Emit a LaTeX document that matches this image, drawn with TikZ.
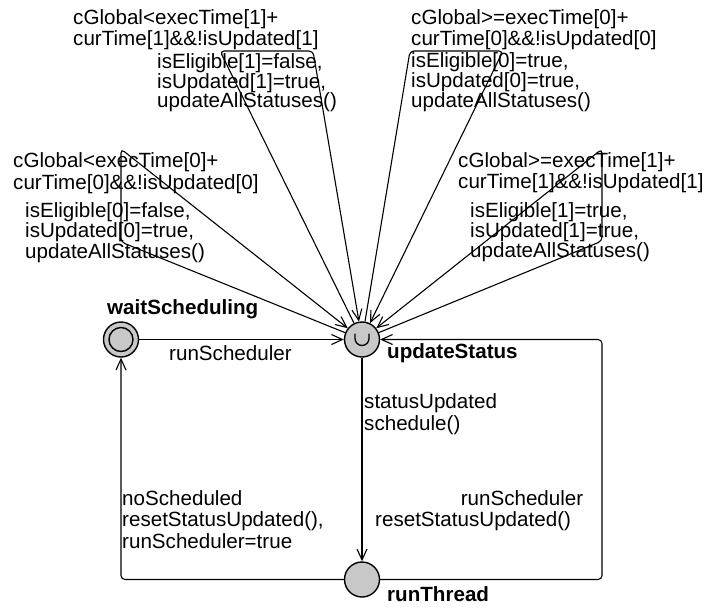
\documentclass[tikz,border=0pt]{standalone}
\usepackage{fontspec}
\setmainfont{Liberation Sans}
\usetikzlibrary{arrows.meta}
\definecolor{locfill}{RGB}{200,200,200}
\begin{document}
\begin{tikzpicture}[x=1pt,y=-1pt,
  loc/.style={circle,draw,line width=1.4pt,fill=locfill,minimum size=35pt,inner sep=0pt},
  edge/.style={draw,line width=1.1pt,rounded corners=4pt},
  arr/.style={-{Straight Barb[length=11pt,width=10pt,line width=1.1pt]}},
  lab/.style={anchor=base west,inner sep=0pt,font=\fontsize{20.6}{22}\selectfont},
  labr/.style={lab,anchor=base east},
  locname/.style={lab,font=\fontsize{20.6}{22}\selectfont\bfseries}]
\useasboundingbox (0,0) rectangle (712,608);
% locations
\node[loc] (ws) at (121,339.5) {};
\draw[line width=1.4pt] (ws.center) circle[radius=12];
\node[loc] (us) at (362,339.5) {};
\draw[line width=1.3pt] ([shift={(-7,-6)}]us.center) -- ++(0,5) arc[start angle=180,end angle=0,radius=7] -- ++(0,-5);
\node[loc] (rt) at (362,579.5) {};
\node[locname] (nws) at (107,314) {waitScheduling};
\node[locname] (nus) at (387,358) {updateStatus};
\node[locname] (nrt) at (387,601) {runThread};
% corner points
\coordinate (bl) at (121,579.5);
\coordinate (br1) at (602,579.5);
\coordinate (br2) at (602,339.5);
\coordinate (a1) at (220,51);
\coordinate (a2) at (313,51);
\coordinate (b1) at (410,51);
\coordinate (b2) at (503,51);
\coordinate (c1) at (121,242);
\coordinate (c2) at (121,149);
\coordinate (d1) at (602,241);
\coordinate (d2) at (602,149);
% edges
\draw[edge,arr] (ws) -- (us);
\draw[edge,arr] (us) -- (rt);
\draw[edge,arr] (rt) -- (bl) -- (ws);
\draw[edge,arr] (rt) -- (br1) -- (br2) -- (us);
\draw[edge,arr] (us) -- (a1) -- (a2) -- (us);
\draw[edge,arr] (us) -- (b1) -- (b2) -- (us);
\draw[edge,arr] (us) -- (c1) -- (c2) -- (us);
\draw[edge,arr] (us) -- (d1) -- (d2) -- (us);
% labels of main edges
\node[lab] (l1) at (169,360) {runScheduler};
\node[lab] (l2) at (364,408) {statusUpdated};
\node[lab] (l3) at (364,430) {schedule()};
\node[lab] (l4) at (122,505) {noScheduled};
\node[lab] (l5) at (122,526.5) {resetStatusUpdated(),};
\node[lab] (l6) at (122,548) {runScheduler=true};
\node[labr] (l7) at (583.5,505) {runScheduler};
\node[lab] (l8) at (375,526.5) {resetStatusUpdated()};
% loop A
\node[lab] (a3) at (73,24) {cGlobal<execTime[1]+};
\node[lab] (a4) at (73,45.5) {curTime[1]\&\&!isUpdated[1]};
\node[lab] (a5) at (157,68) {isEligible[1]=false,};
\node[lab] (a6) at (157,88) {isUpdated[1]=true,};
\node[lab] (a7) at (157,107.5) {updateAllStatuses()};
% loop B
\node[lab] (b3) at (411,24) {cGlobal>=execTime[0]+};
\node[lab] (b4) at (411,45.5) {curTime[0]\&\&!isUpdated[0]};
\node[lab] (b5) at (411,67.5) {isEligible[0]=true,};
\node[lab] (b6) at (411,87.5) {isUpdated[0]=true,};
\node[lab] (b7) at (411,107.5) {updateAllStatuses()};
% loop C
\node[lab] (c3) at (13,167) {cGlobal<execTime[0]+};
\node[lab] (c4) at (13,189) {curTime[0]\&\&!isUpdated[0]};
\node[lab] (c5) at (25,217) {isEligible[0]=false,};
\node[lab] (c6) at (25,237.5) {isUpdated[0]=true,};
\node[lab] (c7) at (25,258) {updateAllStatuses()};
% loop D
\node[lab] (d3) at (458,167) {cGlobal>=execTime[1]+};
\node[lab] (d4) at (458,188.5) {curTime[1]\&\&!isUpdated[1]};
\node[lab] (d5) at (470,217) {isEligible[1]=true,};
\node[lab] (d6) at (470,237.5) {isUpdated[1]=true,};
\node[lab] (d7) at (470,257.5) {updateAllStatuses()};
\end{tikzpicture}
\end{document}
